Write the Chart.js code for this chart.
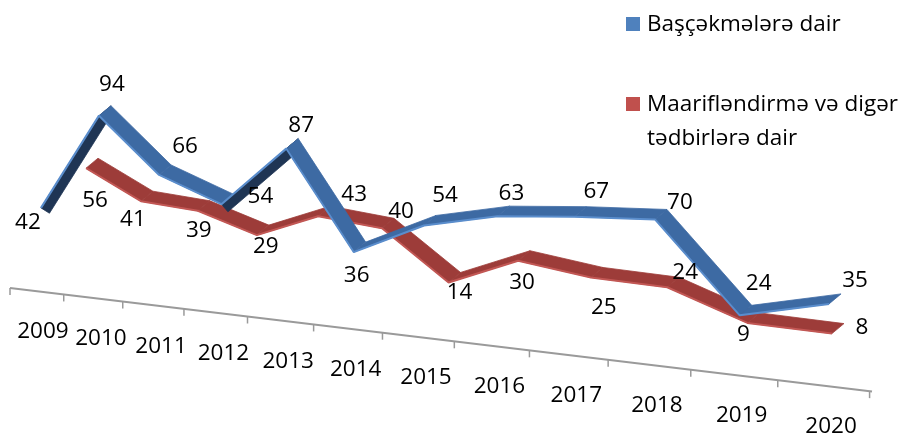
<!DOCTYPE html>
<html>
<head>
<meta charset="utf-8">
<script src="https://cdn.jsdelivr.net/npm/chart.js@4.4.1/dist/chart.umd.min.js"></script>
<style>
  body { margin: 0; background: #fff; }
  #wrap { position: relative; width: 912px; height: 435px; overflow: hidden; }
  #chart { position: absolute; left: 0; top: 0; }
  .leg { position: absolute; font-family: "Open Sans", sans-serif; font-size: 22.5px; line-height: 34px; color: #000; white-space: nowrap; }
  .sw { position: absolute; width: 14px; height: 14px; }
</style>
</head>
<body>
<div id="wrap">
  <canvas id="chart" width="912" height="435"></canvas>
  <div class="sw" style="left:626px;top:17px;background:#4F81BD"></div>
  <div class="leg" style="left:647px;top:6px">Başçəkmələrə dair</div>
  <div class="sw" style="left:626px;top:97px;background:#C0504D"></div>
  <div class="leg" style="left:647px;top:86px">Maarifləndirmə və digər<br>tədbirlərə dair</div>
</div>
<script>
var years = ['2009', '2010', '2011', '2012', '2013', '2014', '2015', '2016', '2017', '2018', '2019', '2020'];
var bascekme = [42, 94, 66, 54, 87, 36, 54, 63, 67, 70, 24, 35];
var maariflendirme = [56, 41, 39, 29, 43, 40, 14, 30, 25, 24, 9, 8];

// where each value label sits next to the middle of its ribbon (dx, dy)
var bascekmeLabelOfs = [[-19, 20], [7, -26], [20, -23], [33, -3], [9, -18], [-3, 28], [15, -25], [8, -18], [16, -20], [19, -12], [13, -27], [20, -18]];
var maarifLabelOfs = [[3, 37], [-14, 23], [-5, 25], [3, 16], [30, -17], [13, -12], [5, 15], [-2, 27], [7, 35], [12, -10], [-10, 17], [24, -1]];

// fake 3d: categories sit on a reversed log axis (years get wider to the
// right, like the perspective), the floor is slanted and ribbons have depth
var VANISH = 29;
var K_DATA = 0.105;
var K_AXIS = 0.12;
var X0 = 10;
var DEPTH = [12, -10];
var MIN_T = 10;
function slant(x, y, k) {
    return y + k * (x - X0);
}

var FONT = '22.5px "Open Sans", sans-serif';
var topColors = ['#3D6AA3', '#9D3C39'];
var sideColors = ['#1F3554', '#742826'];

function quad(ctx, a, b, d) {
    ctx.beginPath();
    ctx.moveTo(a[0], a[1]);
    ctx.lineTo(b[0], b[1]);
    ctx.lineTo(b[0] + d[0], b[1] + d[1]);
    ctx.lineTo(a[0] + d[0], a[1] + d[1]);
    ctx.closePath();
    ctx.fill();
    ctx.stroke();
}

const tiltPlugin = {
    id: 'tilt',
    beforeDatasetDraw(chart, args) {
        // ribbon faces, one quad per segment
        const ctx = chart.ctx;
        const pts = args.meta.data.map(p => [p.x, slant(p.x, p.y, K_DATA)]);
        ctx.save();
        ctx.lineWidth = 0.8;
        for (let i = 0; i < pts.length - 1; i++) {
            const a = pts[i], b = pts[i + 1];
            const sx = b[0] - a[0], sy = b[1] - a[1];
            const cross = sx * DEPTH[1] - sy * DEPTH[0];
            const side = cross > 0;
            ctx.fillStyle = side ? sideColors[args.index] : topColors[args.index];
            ctx.strokeStyle = ctx.fillStyle;
            quad(ctx, a, b, DEPTH);
            if (side) {
                // steep rise: show the dark side a bit wider
                const len = Math.hypot(sx, sy);
                let n = [-sy / len, sx / len];
                if (n[0] * DEPTH[0] + n[1] * DEPTH[1] < 0) n = [-n[0], -n[1]];
                quad(ctx, a, b, [n[0] * MIN_T, n[1] * MIN_T]);
            }
        }
        ctx.restore();
        // front edge (the dataset line) is drawn slanted too
        ctx.save();
        ctx.transform(1, K_DATA, 0, 1, 0, -K_DATA * X0);
    },
    afterDatasetDraw(chart) {
        chart.ctx.restore();
    },
    afterDatasetsDraw(chart) {
        // value labels
        const ctx = chart.ctx;
        ctx.save();
        ctx.font = FONT;
        ctx.fillStyle = '#000';
        ctx.textAlign = 'center';
        ctx.textBaseline = 'middle';
        const sets = [[0, bascekme, bascekmeLabelOfs], [1, maariflendirme, maarifLabelOfs]];
        sets.forEach(function(s) {
            const pts = chart.getDatasetMeta(s[0]).data;
            for (let i = 0; i < pts.length; i++) {
                const px = pts[i].x + DEPTH[0] / 2;
                const py = slant(pts[i].x, pts[i].y, K_DATA) + DEPTH[1] / 2;
                ctx.fillText(String(s[1][i]), px + s[2][i][0], py + s[2][i][1]);
            }
        });
        ctx.restore();
    },
    afterDraw(chart) {
        // slanted category axis
        const ctx = chart.ctx;
        const area = chart.chartArea;
        const xs = chart.scales.x;
        const base = area.bottom + 3;
        ctx.save();
        ctx.strokeStyle = '#9A9A9A';
        ctx.lineWidth = 2;
        ctx.beginPath();
        ctx.moveTo(area.left, slant(area.left, base, K_AXIS));
        ctx.lineTo(area.right, slant(area.right, base, K_AXIS));
        ctx.stroke();
        ctx.lineWidth = 1.5;
        for (let i = 0; i <= years.length; i++) {
            let tx = xs.getPixelForValue(VANISH - i + 0.5) - 6;
            tx = Math.max(area.left, Math.min(tx, area.right));
            ctx.beginPath();
            ctx.moveTo(tx, slant(tx, base, K_AXIS));
            ctx.lineTo(tx, slant(tx, base, K_AXIS) + 7);
            ctx.stroke();
        }
        ctx.font = FONT;
        ctx.fillStyle = '#000';
        ctx.textAlign = 'center';
        ctx.textBaseline = 'middle';
        for (let i = 0; i < years.length; i++) {
            const cx = xs.getPixelForValue(VANISH - i) + 2;
            ctx.fillText(years[i], cx, slant(cx, base, K_AXIS) + 40);
        }
        ctx.restore();
    }
};

const ctx = document.getElementById('chart').getContext('2d');
const myChart = new Chart(ctx, {
    type: 'line',
    data: {
        datasets: [{
            label: 'Başçəkmələrə dair',
            data: bascekme.map((v, i) => ({ x: VANISH - i, y: v })),
            xAxisID: 'x',
            yAxisID: 'y',
            borderColor: '#5A8DCC',
            backgroundColor: '#4F81BD',
            borderWidth: 2,
            borderJoinStyle: 'bevel',
            pointRadius: 0,
            tension: 0,
            clip: false,
        }, {
            label: 'Maarifləndirmə və digər tədbirlərə dair',
            data: maariflendirme.map((v, i) => ({ x: VANISH - i, y: v })),
            xAxisID: 'x2',
            yAxisID: 'y2',
            borderColor: '#C25754',
            backgroundColor: '#C0504D',
            borderWidth: 2,
            borderJoinStyle: 'bevel',
            pointRadius: 0,
            tension: 0,
            clip: false,
        }],
    },
    options: {
        responsive: false,
        animation: false,
        layout: {
            padding: { left: 10, right: 40, top: 75, bottom: 150 }
        },
        plugins: {
            legend: { display: false },
            tooltip: { enabled: false },
        },
        scales: {
            x: { type: 'logarithmic', reverse: true, min: 17.538, max: 29.549, display: false },
            x2: { type: 'logarithmic', reverse: true, min: 17.545, max: 30.444, display: false },
            y: { min: -0.5, max: 110.6, display: false },
            y2: { min: -12.8, max: 103, display: false },
        },
    },
    plugins: [tiltPlugin],
});
</script>
</body>
</html>
